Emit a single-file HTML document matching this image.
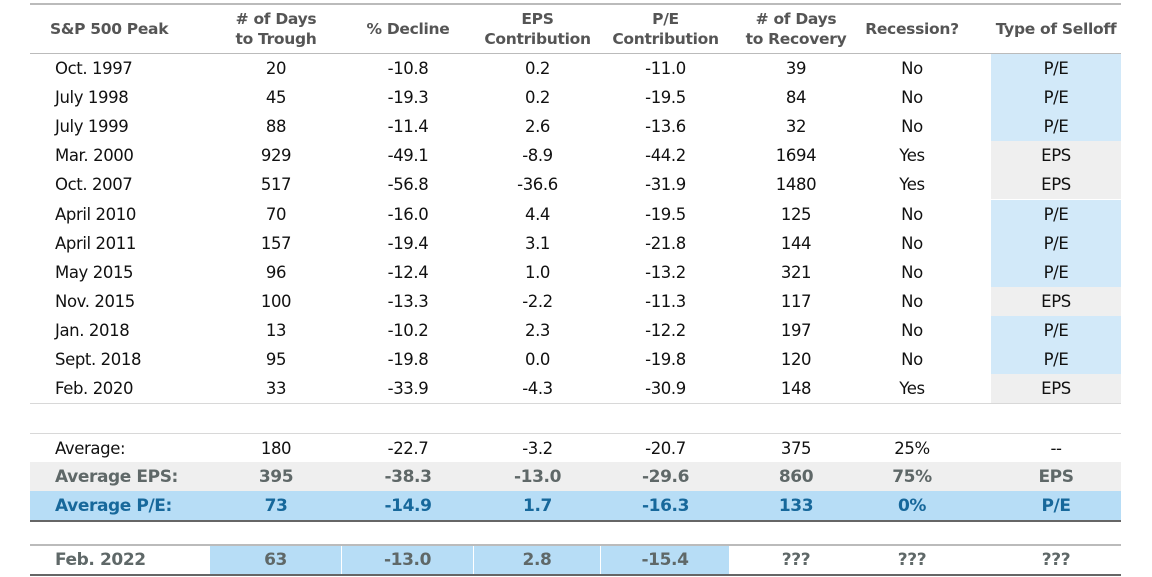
<!DOCTYPE html>
<html><head><meta charset="utf-8"><style>
body{margin:0;width:1152px;height:577px;background:#fff;position:relative;overflow:hidden;font-family:"DejaVu Sans","Liberation Sans",sans-serif;}
.r{position:absolute;left:30px;width:1091px;}
.c{position:absolute;top:0;height:100%;display:flex;align-items:center;justify-content:center;font-size:16.5px;color:#111;letter-spacing:-0.4px;}
.l{justify-content:flex-start;padding-left:25px;}
.h .c{font-weight:bold;color:#555;font-size:15.5px;text-align:center;line-height:20px;letter-spacing:-0.3px;}
.line{position:absolute;left:30px;width:1091px;height:1px;background:#d8d8d8;}
.dark{background:#666;height:2px;}
</style></head><body>
<div class="line" style="top:3px;background:#bbb;height:2px"></div>
<div class="r h" style="top:5px;height:48px">
<div class="c l" style="left:0;width:180px;padding-left:20px">S&amp;P 500 Peak</div>
<div class="c" style="left:180px;width:132px">#&nbsp;of Days<br>to Trough</div>
<div class="c" style="left:312px;width:132px">% Decline</div>
<div class="c" style="left:444px;width:127px">EPS<br>Contribution</div>
<div class="c" style="left:571px;width:129px">P/E<br>Contribution</div>
<div class="c" style="left:700px;width:132px"># of Days<br>to Recovery</div>
<div class="c" style="left:832px;width:100px">Recession?</div>
<div class="c" style="left:961px;width:130px">Type of Selloff</div>
</div>
<div class="line" style="top:53px;background:#bbb"></div>
<div id="rows"></div>
<div class="line" style="top:403px"></div>
<div class="line" style="top:433px"></div>
<div class="line dark" style="top:520px"></div>
<div class="line" style="top:544px;background:#bbb;height:2px"></div>
<div class="line dark" style="top:574px"></div>
<script>
var d=[["Oct. 1997","20","-10.8","0.2","-11.0","39","No","P/E"],
["July 1998","45","-19.3","0.2","-19.5","84","No","P/E"],
["July 1999","88","-11.4","2.6","-13.6","32","No","P/E"],
["Mar. 2000","929","-49.1","-8.9","-44.2","1694","Yes","EPS"],
["Oct. 2007","517","-56.8","-36.6","-31.9","1480","Yes","EPS"],
["April 2010","70","-16.0","4.4","-19.5","125","No","P/E"],
["April 2011","157","-19.4","3.1","-21.8","144","No","P/E"],
["May 2015","96","-12.4","1.0","-13.2","321","No","P/E"],
["Nov. 2015","100","-13.3","-2.2","-11.3","117","No","EPS"],
["Jan. 2018","13","-10.2","2.3","-12.2","197","No","P/E"],
["Sept. 2018","95","-19.8","0.0","-19.8","120","No","P/E"],
["Feb. 2020","33","-33.9","-4.3","-30.9","148","Yes","EPS"]];
var L=[0,180,312,444,571,700,832,961,1091];
function row(v,top,h,bg,st,cellbg){
 var s='<div class="r" style="top:'+top+'px;height:'+h+'px;'+(bg?'background:'+bg+';':'')+'">';
 for(var i=0;i<8;i++){
  var w=L[i+1]-L[i],cls='c'+(i==0?' l':''),x=L[i],extra='';
  if(i==6){x=832;w=100;}
  if(i==7){x=961;w=130;}
  if(cellbg&&cellbg[i]) extra='background:'+cellbg[i]+';';
  s+='<div class="'+cls+'" style="left:'+x+'px;width:'+w+'px;'+extra+st+'">'+v[i]+'</div>';
 }
 return s+'</div>';
}
var h='';
for(var k=0;k<12;k++){
 var t=54+k*29.1;
 var cb=[];cb[7]=(d[k][7]=="P/E"?"#d2e9f9":"#efefef");
 h+=row(d[k],Math.round(t),29,null,'',cb);
 h+='<div style="position:absolute;left:991px;width:130px;top:'+Math.round(t+29)+'px;height:1px;background:#fff"></div>';
}
h+=row(["Average:","180","-22.7","-3.2","-20.7","375","25%","--"],434,28,null,'');
h+=row(["Average EPS:","395","-38.3","-13.0","-29.6","860","75%","EPS"],462,29,'#efefef','font-weight:bold;color:#5f6868;font-size:17px;');
h+=row(["Average P/E:","73","-14.9","1.7","-16.3","133","0%","P/E"],491,29,'#b7ddf6','font-weight:bold;color:#17689b;font-size:17px;');
var fb='#b7ddf6';
var s='<div class="r" style="top:546px;height:28px">';
var fv=["Feb. 2022","63","-13.0","2.8","-15.4","???","???","???"];
for(var i=0;i<8;i++){var x=L[i],w=L[i+1]-L[i];if(i==6){x=832;w=100;}if(i==7){x=961;w=130;}
 var bg=(i>=1&&i<=4)?'background:'+fb+';':'';
 var ww=(i>=1&&i<=4)?w-1:w;
 s+='<div class="c'+(i==0?' l':'')+'" style="left:'+x+'px;width:'+ww+'px;'+bg+'font-weight:bold;color:#5f6868;font-size:17px;">'+fv[i]+'</div>';}
h+=s+'</div>';
document.getElementById('rows').innerHTML=h;
</script>
</body></html>
